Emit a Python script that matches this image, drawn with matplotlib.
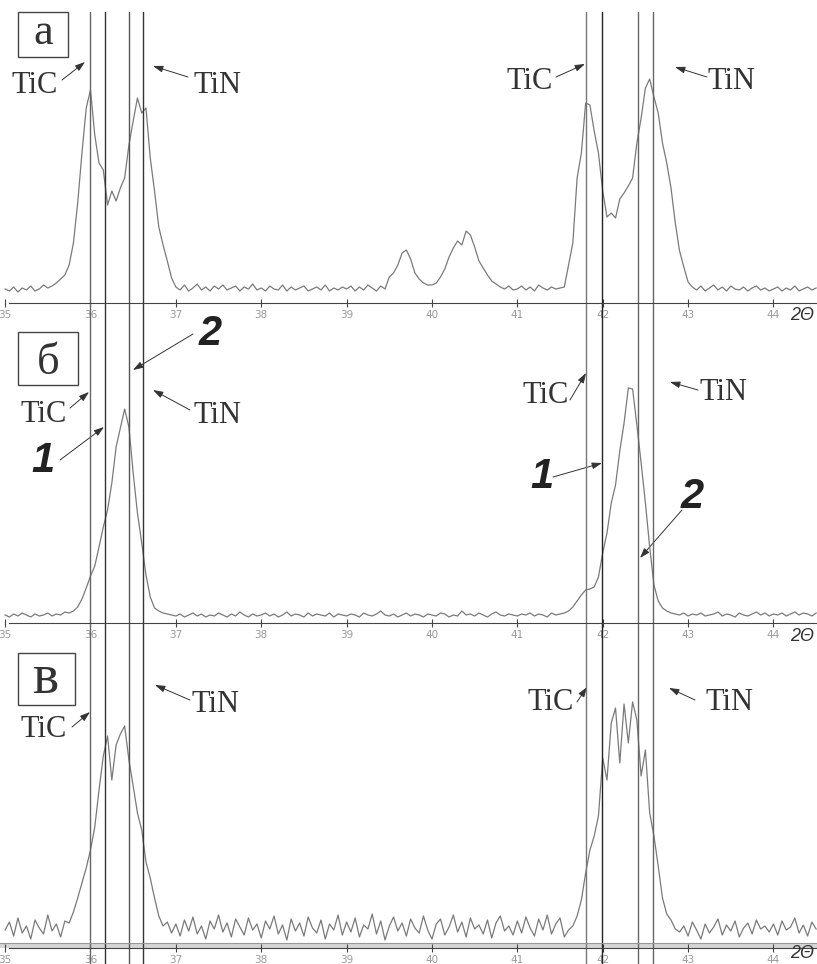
import numpy as np
import matplotlib.pyplot as plt
from matplotlib import font_manager
from matplotlib.patches import Rectangle

W, H = 817, 964

# 2theta grid, step 0.05 deg
theta = np.round(np.arange(35.0, 44.5001, 0.05), 2)

# intensities (arbitrary units, one row per degree)
int_a = [
    14, 12, 16, 11, 15, 13, 17, 12, 14, 18, 15, 17, 20, 24, 28, 38, 60, 100, 150, 195,
    213, 168, 140, 133, 98, 112, 102, 115, 125, 158, 182, 205, 190, 195, 145, 112, 76, 58, 42, 25,
    16, 13, 18, 12, 15, 19, 13, 16, 12, 17, 14, 18, 13, 15, 17, 12, 16, 14, 19, 13,
    15, 12, 17, 14, 13, 18, 12, 16, 13, 15, 17, 12, 14, 16, 13, 18, 12, 15, 13, 16,
    14, 17, 12, 16, 13, 18, 15, 12, 17, 14, 26, 30, 38, 50, 53, 44, 30, 24, 20, 18,
    18, 20, 26, 34, 46, 55, 62, 58, 72, 68, 56, 42, 35, 28, 22, 19, 16, 14, 17, 13,
    14, 17, 13, 16, 12, 18, 15, 13, 16, 14, 15, 16, 38, 60, 125, 150, 200, 198, 172, 150,
    112, 86, 90, 85, 104, 110, 117, 125, 160, 185, 215, 224, 206, 190, 160, 140, 115, 80, 52, 36,
    21, 16, 13, 17, 12, 15, 18, 13, 16, 12, 17, 14, 13, 16, 12, 15, 17, 13, 15, 12,
    14, 16, 12, 15, 13, 17, 12, 14, 16, 13, 15]

int_b = [
    8, 6, 9, 7, 10, 8, 6, 9, 7, 8, 10, 7, 9, 8, 11, 10, 12, 16, 24, 35,
    47, 57, 76, 96, 113, 140, 176, 195, 214, 196, 150, 110, 80, 48, 26, 15, 12, 10, 9, 8,
    7, 9, 6, 8, 10, 7, 9, 6, 8, 7, 10, 8, 6, 9, 7, 11, 8, 6, 9, 7,
    8, 10, 7, 9, 6, 8, 11, 7, 9, 8, 6, 10, 7, 9, 8, 7, 10, 6, 9, 8,
    7, 9, 8, 6, 10, 8, 7, 9, 12, 8, 7, 9, 6, 8, 10, 7, 9, 8, 6, 9,
    8, 7, 10, 9, 6, 8, 7, 12, 8, 9, 7, 10, 8, 6, 9, 11, 8, 7, 9, 8,
    7, 9, 8, 10, 7, 9, 8, 6, 10, 8, 9, 10, 12, 16, 22, 28, 33, 34, 36, 46,
    70, 90, 120, 138, 172, 200, 235, 234, 198, 160, 120, 76, 38, 22, 15, 12, 10, 9, 8, 10,
    7, 9, 8, 10, 7, 8, 9, 11, 7, 9, 8, 6, 10, 8, 7, 9, 11, 8, 10, 7,
    9, 8, 10, 7, 9, 11, 8, 10, 9, 7, 10]

int_c = [
    18, 26, 12, 30, 15, 22, 9, 28, 20, 14, 33, 17, 24, 11, 27, 25, 36, 50, 65, 80,
    98, 121, 158, 192, 212, 168, 203, 214, 222, 188, 162, 135, 118, 86, 70, 50, 32, 22, 26, 15,
    24, 12, 28, 17, 31, 14, 22, 9, 27, 19, 33, 16, 25, 11, 29, 21, 13, 30, 18, 24,
    10, 27, 19, 32, 14, 23, 8, 29, 17, 25, 12, 31, 20, 15, 28, 9, 24, 18, 33, 13,
    26, 16, 30, 11, 23, 19, 34, 14, 27, 8, 22, 31, 17, 25, 12, 29, 20, 15, 32, 18,
    9, 24, 29, 13, 21, 33, 16, 26, 11, 30, 19, 23, 14, 28, 10, 25, 32, 17, 22, 13,
    27, 15, 31, 20, 12, 29, 18, 33, 14, 24, 30, 11, 18, 22, 32, 48, 75, 98, 112, 132,
    190, 168, 225, 240, 185, 244, 205, 246, 228, 172, 198, 135, 112, 82, 50, 34, 28, 19, 16, 22,
    12, 26, 18, 9, 24, 15, 21, 29, 13, 23, 17, 27, 11, 20, 25, 14, 28, 19, 22, 16,
    24, 13, 27, 18, 21, 30, 15, 23, 12, 26, 19]

# reference line positions (TiC / TiN, markers 1 / 2)
ref_lines = [36.0, 36.17, 36.45, 36.62, 41.81, 41.99, 42.41, 42.59]
ref_colors = ['#666', '#333', '#555', '#333', '#777', '#222', '#666', '#666']
ticks = [35, 36, 37, 38, 39, 40, 41, 42, 43, 44]
panel_letters = ['а', 'б', 'в']

names = {f.name for f in font_manager.fontManager.ttflist}
tick_font = 'Liberation Sans Narrow' if 'Liberation Sans Narrow' in names else 'DejaVu Sans'
serif = 'Liberation Serif'

fig = plt.figure(figsize=(W / 100, H / 100), dpi=100)

# panels: (top px, bottom px, axis line px)
panels = [(12, 318, 303), (318, 640, 623), (640, 964, 948)]
series = [int_a, int_b, int_c]
axes = []
for (top, bot, axis_px), vals in zip(panels, series):
    ax = fig.add_axes([0, 1 - bot / H, 1, (bot - top) / H])
    ax.patch.set_alpha(0)
    ax.set_xlim(34.94, 44.51)
    ax.set_ylim(axis_px - bot, axis_px - top)
    ax.plot(theta, vals, color='#7a7a7a', lw=0.9)
    for x, c in zip(ref_lines, ref_colors):
        ax.axvline(x, color=c, lw=1.0)
    for s in ['top', 'left', 'right']:
        ax.spines[s].set_visible(False)
    ax.spines['bottom'].set_position(('data', 0))
    ax.spines['bottom'].set_bounds(35.05, 44.51)
    ax.spines['bottom'].set_color('#444')
    ax.set_yticks([])
    ax.set_xticks(ticks)
    ax.set_xticklabels([str(t) for t in ticks])
    ax.tick_params(axis='x', direction='inout', length=6, width=0.8, color='#444',
                   labelcolor='#999', labelsize=7.5, pad=2)
    for lab in ax.get_xticklabels():
        lab.set_family(tick_font)
    axes.append(ax)

# double line under the last panel
axes[2].axhspan(0, 5, facecolor='#d6d6d6', edgecolor='none')
axes[2].axhline(5, color='#999', lw=0.8)


def text(s, x, y, **kw):
    fig.text(x / W, 1 - y / H, s, ha='center', va='baseline', **kw)


def arrow(x0, y0, x1, y1):
    axes[0].annotate('', xy=(x1, H - y1), xytext=(x0, H - y0),
                     xycoords='figure pixels', textcoords='figure pixels',
                     arrowprops=dict(arrowstyle='-|>,head_length=0.6,head_width=0.2',
                                     color='#333', lw=0.7, mutation_scale=10,
                                     shrinkA=0, shrinkB=0))


# panel letters in boxes
boxes = [(18, 12, 68, 57), (18, 332, 78, 385), (18, 653, 75, 705)]
letter_pos = [(43, 44), (48, 374), (46, 693)]
letter_size = [32, 32, 40]
for (x0, y0, x1, y1), (lx, ly), s, fs in zip(boxes, letter_pos, panel_letters, letter_size):
    fig.add_artist(Rectangle((x0 / W, 1 - y1 / H), (x1 - x0) / W, (y1 - y0) / H,
                             transform=fig.transFigure, facecolor='white',
                             edgecolor='#444', lw=1.0))
    text(s, lx, ly, family=serif, fontsize=fs, color='#333')

tfont = dict(family=serif, fontsize=22, color='#333')
nfont = dict(family='Liberation Sans', fontsize=30, weight='bold', style='italic', color='#222')

# panel a
text('TiC', 35, 93, **tfont)
arrow(62, 80, 85, 62)
text('TiN', 217, 93, **tfont)
arrow(188, 77, 153, 66)
text('TiC', 530, 89, **tfont)
arrow(556, 77, 585, 64)
text('TiN', 731, 89, **tfont)
arrow(707, 77, 675, 67)

# panel b
text('TiC', 44, 422, **tfont)
arrow(70, 408, 89, 392)
text('TiN', 217, 423, **tfont)
arrow(190, 410, 153, 390)
text('1', 43, 472, **nfont)
arrow(60, 460, 104, 427)
text('2', 210, 345, **nfont)
arrow(193, 334, 133, 370)
text('TiC', 546, 403, **tfont)
arrow(570, 400, 586, 373)
text('TiN', 723, 400, **tfont)
arrow(698, 390, 670, 382)
text('1', 542, 488, **nfont)
arrow(553, 477, 602, 463)
text('2', 692, 508, **nfont)
arrow(682, 510, 640, 558)

# panel c
text('TiC', 44, 737, **tfont)
arrow(72, 727, 90, 712)
text('TiN', 216, 712, **tfont)
arrow(190, 700, 155, 685)
text('TiC', 551, 710, **tfont)
arrow(577, 702, 587, 687)
text('TiN', 729, 710, **tfont)
arrow(695, 700, 669, 688)

# axis captions
for y in [320, 641, 958]:
    text('2Θ', 802, y, family='Liberation Sans', style='italic', fontsize=13, color='#333')

fig.savefig('out.png', dpi=100)
